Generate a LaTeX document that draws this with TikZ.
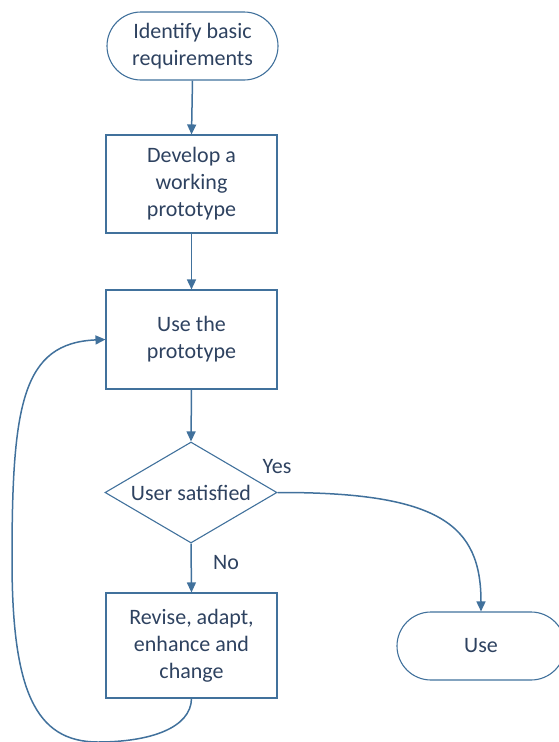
\documentclass[tikz,border=0pt]{standalone}
\usepackage{fontspec}
\setmainfont{Carlito}
\usetikzlibrary{shapes.geometric,arrows.meta}
\definecolor{edgeblue}{RGB}{65,113,156}
\definecolor{inkblue}{RGB}{46,66,96}
\begin{document}
\begin{tikzpicture}[x=1pt,y=-1pt,
  base/.style={draw=edgeblue,line width=1.1pt,text=inkblue,align=center,
    font=\fontsize{22}{27}\selectfont,inner sep=0pt},
  terminal/.style={base,rectangle,rounded corners=34pt,minimum width=171pt,minimum height=68pt},
  process/.style={base,rectangle,minimum width=171pt},
  decision/.style={base,diamond,aspect=1.7,minimum width=172pt,minimum height=101pt},
  flow/.style={draw=edgeblue,line width=1.5pt,-{Triangle[length=10pt,width=9pt]}},
  lbl/.style={text=inkblue,font=\fontsize{22}{27}\selectfont,inner sep=0pt}]
  \useasboundingbox (0,0) rectangle (558,742);

  \node[terminal] (start) at (192.5,46) {Identify basic\\requirements};
  \node[process,minimum height=98pt] (develop) at (191.5,184) {Develop a\\working\\prototype};
  \node[process,minimum height=99pt] (usep) at (191.5,339.5) {Use the\\prototype};
  \node[decision] (sat) at (191,492.5) {User satisfied};
  \node[process,minimum height=105pt] (revise) at (191.5,645.5) {Revise, adapt,\\enhance and\\change};
  \node[terminal,minimum width=168pt] (use) at (481,646) {Use};

  \node[lbl] (yes) at (277,467) {Yes};
  \node[lbl] (no) at (226,563) {No};

  \draw[flow] (start.south) -- (develop.north);
  \draw[flow] (develop.south) -- (usep.north);
  \draw[flow] (usep.south) -- (sat.north);
  \draw[flow] (sat.south) -- (revise.north);
  \draw[flow] (sat.east) .. controls (440,492) and (481,525) .. (use.north);
  \draw[flow] (revise.south) .. controls (191,728) and (150,742) .. (98,742)
    .. controls (35,742) and (12,690) .. (12,560)
    .. controls (12,405) and (22,343) .. (usep.west);
\end{tikzpicture}
\end{document}
